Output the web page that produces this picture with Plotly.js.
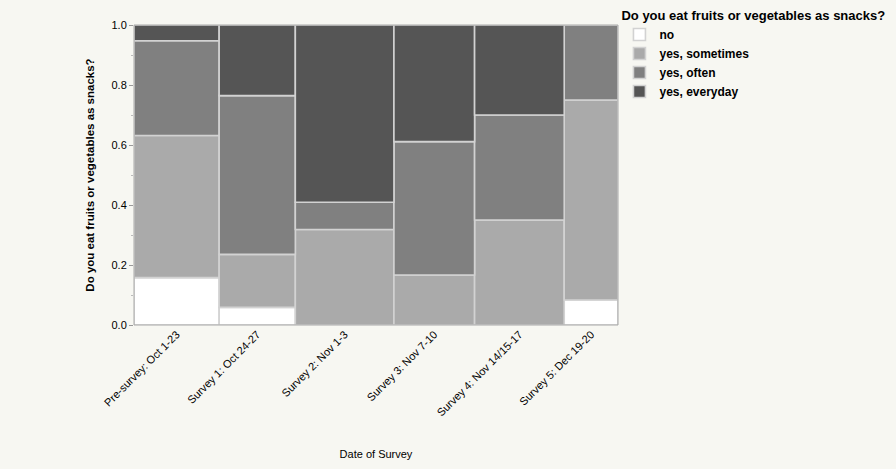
<!DOCTYPE html>
<html>
<head>
<meta charset="utf-8">
<script src="https://cdn.plot.ly/plotly-3.0.1.min.js"></script>
<style>
  html, body { margin: 0; padding: 0; background: #f7f7f2; }
  #chart { width: 896px; height: 469px; }
</style>
</head>
<body>
<div id="chart"></div>
<script>
// Mosaic: column width = share of respondents per survey, stacked share per answer.
const surveys = ['Pre-survey: Oct 1-23', 'Survey 1: Oct 24-27', 'Survey 2: Nov 1-3',
  'Survey 3: Nov 7-10', 'Survey 4: Nov 14/15-17', 'Survey 5: Dec 19-20'];
const answers = ['no', 'yes, sometimes', 'yes, often', 'yes, everyday'];
// respondent counts per survey, one array per answer
const countNo        = [3, 1, 0, 0, 0, 1];
const countSometimes = [9, 3, 7, 3, 7, 8];
const countOften     = [6, 9, 2, 8, 7, 3];
const countEveryday  = [1, 4, 13, 7, 6, 0];
const answerColors = ['#ffffff', '#aaaaaa', '#808080', '#555555'];

const counts = [countNo, countSometimes, countOften, countEveryday];
const totals = surveys.map((_, i) => counts.reduce((s, c) => s + c[i], 0));
const grand = totals.reduce((a, b) => a + b, 0);
const widths = totals.map((t) => t / grand);
const lefts = [];
let acc = 0;
for (const w of widths) { lefts.push(acc); acc += w; }
const centers = lefts.map((l, i) => l + widths[i] / 2);

const traces = [];
const base = surveys.map(() => 0);
answers.forEach((name, k) => {
  const frac = counts[k].map((c, i) => c / totals[i]);
  traces.push({
    type: 'bar', name,
    x: centers, y: frac, base: base.slice(), width: widths,
    marker: { color: answerColors[k], line: { color: '#d2d2d2', width: 1.6 } },
    hovertemplate: `${name}: %{y:.2f}<extra></extra>`,
  });
  frac.forEach((f, i) => { base[i] += f; });
});

const font = { family: 'Liberation Sans, Arial, sans-serif', size: 11, color: '#000' };

const layout = {
  width: 896, height: 469,
  margin: { l: 134, r: 278, t: 25, b: 144, autoexpand: false },
  paper_bgcolor: '#f7f7f2', plot_bgcolor: '#f7f7f2',
  font,
  barmode: 'overlay',
  bargap: 0,
  showlegend: true,
  legend: {
    x: 1.003, xanchor: 'left', y: 1.073, yanchor: 'top',
    traceorder: 'normal', tracegroupgap: 0,
    itemwidth: 30,
    title: { text: '<b>Do you eat fruits or vegetables as snacks?</b>', font: { size: 13, color: '#000' } },
    font: { size: 12, color: '#000', weight: 'bold' },
  },
  xaxis: {
    range: [0, 1], tickvals: centers, ticktext: surveys, tickangle: -45,
    showgrid: false, zeroline: false, ticks: '', showline: false,
    title: { text: 'Date of Survey', standoff: 32, font: { size: 11 } },
    fixedrange: true,
  },
  yaxis: {
    range: [0, 1], dtick: 0.2, tickformat: '.1f',
    ticks: 'outside', ticklen: 4, tickcolor: '#999',
    minor: { dtick: 0.1, ticks: 'outside', ticklen: 2, tickcolor: '#bbb' },
    showgrid: false, zeroline: false, showline: false,
    title: { text: '<b>Do you eat fruits or vegetables as snacks?</b>', standoff: 14, font: { size: 11.5 } },
    fixedrange: true,
  },
  shapes: [{
    type: 'rect', xref: 'paper', yref: 'paper', x0: 0, x1: 1, y0: 0, y1: 1,
    line: { color: '#a8a8a8', width: 1 }, layer: 'above',
  }],
};

Plotly.newPlot('chart', traces, layout, { displayModeBar: false, staticPlot: true });
</script>
</body>
</html>
